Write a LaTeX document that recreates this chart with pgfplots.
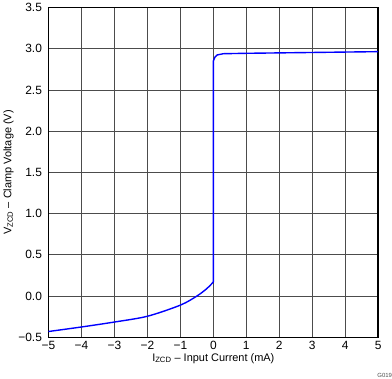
\documentclass[border=0pt]{standalone}
\usepackage{pgfplots}
\pgfplotsset{compat=1.18}
\usepackage{fontspec}
\setmainfont{Liberation Sans}
\begin{document}
\begin{tikzpicture}[x=1bp,y=1bp]
\begin{axis}[
  name=ax,
  scale only axis, width=330bp, height=330bp,
  xmin=-5, xmax=5, ymin=-0.5, ymax=3.5,
  xtick={-5,-4,...,5},
  xticklabels={−5,−4,−3,−2,−1,0,1,2,3,4,5},
  ytick={-0.5,0,0.5,1,1.5,2,2.5,3,3.5},
  yticklabels={−0.5,0.0,0.5,1.0,1.5,2.0,2.5,3.0,3.5},
  grid=major,
  grid style={draw=black!70, line width=0.8pt},
  axis line style={line width=1.5pt},
  tick style={draw=none},
  ticklabel style={font=\fontsize{12}{14}\selectfont},
  yticklabel style={xshift=-3bp},
  label style={font=\fontsize{11}{13}\selectfont},
  xlabel={I\textsubscript{ZCD} – Input Current (mA)},
  ylabel={V\textsubscript{ZCD} – Clamp Voltage (V)},
  xlabel shift=-3pt,
  ylabel shift=-2pt,
  clip=true,
]
\addplot[blue, line width=1.4pt, smooth] coordinates {
(-5,-0.43) (-4,-0.375) (-3,-0.315) (-2,-0.245) (-1,-0.11) (-0.5,0.0) (-0.2,0.09) (0,0.17)
};
\addplot[blue, line width=1.4pt] coordinates {
(0,0.17) (0,2.85) (0.05,2.9) (0.12,2.925) (0.3,2.94) (1,2.945) (3,2.955) (5,2.965)
};
\end{axis}
\node[anchor=south east, font=\fontsize{6}{7}\selectfont, text=black!70, inner sep=0pt] at ([xshift=14bp,yshift=-41bp]ax.south east) {G019};
\end{tikzpicture}
\end{document}
